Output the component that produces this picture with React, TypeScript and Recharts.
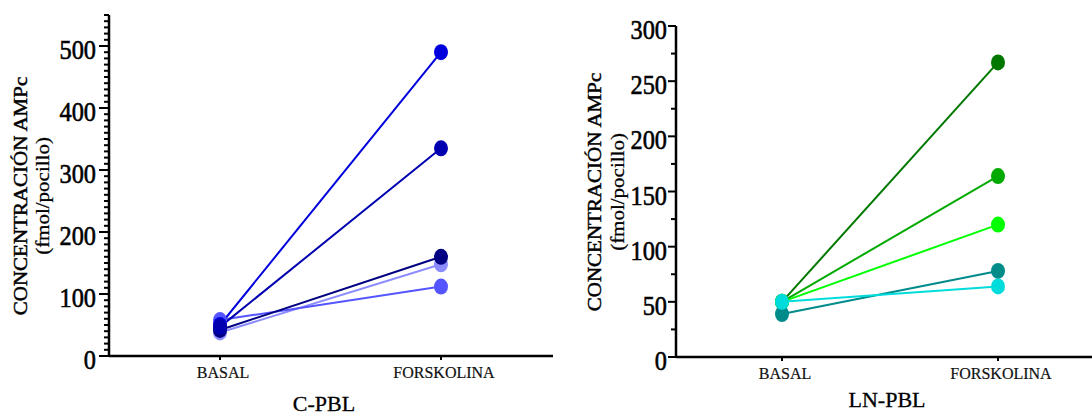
import React from 'react';
import { LineChart, Line, XAxis, YAxis } from 'recharts';

const categories = ['BASAL', 'FORSKOLINA'];

// C-PBL (left panel)
const cpblBasal = [50, 47, 42, 38, 58];
const cpblForskolina = [490, 335, 160, 148, 112];
const cpblColors = ['#0000dd', '#0000b0', '#000080', '#8c8cff', '#5555ff'];
const cpblMajorTicks = [0, 100, 200, 300, 400, 500];
const cpblMinorStep = 10;
const cpblMax = 550;

// LN-PBL (right panel)
const lnpblBasal = [50, 50, 50, 39, 50];
const lnpblForskolina = [267, 164, 120, 78, 64];
const lnpblColors = ['#007800', '#00aa00', '#00ff00', '#008b8b', '#00dcdc'];
const lnpblMajorTicks = [0, 50, 100, 150, 200, 250, 300];
const lnpblMinorStep = 25;
const lnpblMax = 300;

const FONT = "'Liberation Serif', 'Times New Roman', serif";

const buildRows = (basal: number[], forsk: number[]) =>
  categories.map((cat, ci) => {
    const row: Record<string, any> = { cat };
    const vals = ci === 0 ? basal : forsk;
    vals.forEach((v, i) => {
      row['s' + i] = v;
    });
    return row;
  });

const buildTicks = (max: number, step: number) => {
  const t: number[] = [];
  for (let v = 0; v <= max; v += step) t.push(v);
  return t;
};

const makeYTick = (majors: number[], majorLen: number, minorLen: number, gap: number) => (props: any) => {
  const { x, y, payload } = props;
  const v = payload.value;
  const isMajor = majors.includes(v);
  const len = isMajor ? majorLen : minorLen;
  return (
    <g>
      <line x1={x - len} x2={x} y1={y} y2={y} stroke="#000" strokeWidth={2} />
      {isMajor && (
        <text
          transform={`translate(${x - gap},${y + 13}) scale(0.9,1)`}
          textAnchor="end"
          fontSize={27}
          fontFamily={FONT}
          fill="#000"
          stroke="#000"
          strokeWidth={0.6}
        >
          {v}
        </text>
      )}
    </g>
  );
};

const XTick = (props: any) => {
  const { x, y, payload } = props;
  return (
    <g>
      <line x1={x} x2={x} y1={y} y2={y + 4} stroke="#000" strokeWidth={2} />
      <text x={x + 3} y={y + 22} textAnchor="middle" fontSize={16} fontFamily={FONT} fill="#111" stroke="#111" strokeWidth={0.2}>
        {payload.value}
      </text>
    </g>
  );
};

const YTitle = (props: any) => {
  const { bx1, bx2, cy } = props;
  return (
    <g>
      <text
        transform={`translate(${bx1},${cy}) scale(0.88,1) rotate(-90)`}
        textAnchor="middle"
        fontSize={21}
        fontFamily={FONT}
        fill="#000"
        stroke="#000"
        strokeWidth={0.5}
      >
        CONCENTRACIÓN AMPc
      </text>
      <text
        transform={`translate(${bx2},${cy}) scale(0.88,1) rotate(-90)`}
        textAnchor="middle"
        fontSize={21}
        fontFamily={FONT}
        fill="#000"
        stroke="#000"
        strokeWidth={0.3}
      >
        (fmol/pocillo)
      </text>
    </g>
  );
};

const XTitle = (props: any) => {
  const { tx, ty, text } = props;
  return (
    <text x={tx} y={ty} textAnchor="middle" fontSize={22} fontFamily={FONT} fill="#000" stroke="#000" strokeWidth={0.3}>
      {text}
    </text>
  );
};

const makeDot = (color: string) => (p: any) => (
  <ellipse key={`d-${p.index}-${color}`} cx={p.cx} cy={p.cy} rx={7} ry={8} fill={color} />
);

const Panel = (props: any) => {
  const {
    left, width, basal, forsk, colors, majors, step, max, marginLeft, marginTop, marginBottom,
    padL, padR, majorLen, gap, yTitle, title, titlePos,
  } = props;
  const rows = buildRows(basal, forsk);
  const ticks = buildTicks(max, step);
  const order = props.order as number[];
  return (
    <div style={{ position: 'absolute', left, top: 0 }}>
      <LineChart
        width={width}
        height={417}
        data={rows}
        margin={{ left: marginLeft - 40, top: marginTop, right: 0, bottom: marginBottom - 30 }}
      >
        <XAxis
          dataKey="cat"
          height={30}
          padding={{ left: padL, right: padR }}
          axisLine={{ stroke: '#000', strokeWidth: 2.5 }}
          tickLine={false}
          tickSize={0}
          tickMargin={0}
          tick={<XTick />}
          interval={0}
          label={<XTitle tx={titlePos[0]} ty={titlePos[1]} text={title} />}
        />
        <YAxis
          width={40}
          domain={[0, max]}
          ticks={ticks}
          interval={0}
          type="number"
          axisLine={{ stroke: '#000', strokeWidth: 2.5 }}
          tickLine={false}
          tickSize={0}
          tickMargin={0}
          tick={makeYTick(majors, majorLen, 5, gap)}
          label={<YTitle bx1={yTitle[0]} bx2={yTitle[1]} cy={yTitle[2]} />}
        />
        {order.map((i) => (
          <Line
            key={'s' + i}
            dataKey={'s' + i}
            stroke={colors[i]}
            strokeWidth={2}
            dot={makeDot(colors[i])}
            activeDot={false}
            isAnimationActive={false}
          />
        ))}
      </LineChart>
    </div>
  );
};

export default function App() {
  return (
    <div style={{ position: 'absolute', left: 0, top: 0, width: 1092, height: 417, background: '#fff', overflow: 'hidden' }}>
      <Panel
        left={0}
        width={553}
        basal={cpblBasal}
        forsk={cpblForskolina}
        colors={cpblColors}
        majors={cpblMajorTicks}
        step={cpblMinorStep}
        max={cpblMax}
        marginLeft={109}
        marginTop={15}
        marginBottom={61}
        padL={111}
        padR={112}
        majorLen={10}
        gap={13}
        yTitle={[27, 49, 196]}
        title="C-PBL"
        titlePos={[324, 411]}
        order={[3, 4, 2, 0, 1]}
      />
      <Panel
        left={560}
        width={534}
        basal={lnpblBasal}
        forsk={lnpblForskolina}
        colors={lnpblColors}
        majors={lnpblMajorTicks}
        step={lnpblMinorStep}
        max={lnpblMax}
        marginLeft={116}
        marginTop={26}
        marginBottom={60}
        padL={106}
        padR={96}
        majorLen={8}
        gap={9}
        yTitle={[41, 64, 192]}
        title="LN-PBL"
        titlePos={[327, 407]}
        order={[0, 1, 2, 3, 4]}
      />
    </div>
  );
}
